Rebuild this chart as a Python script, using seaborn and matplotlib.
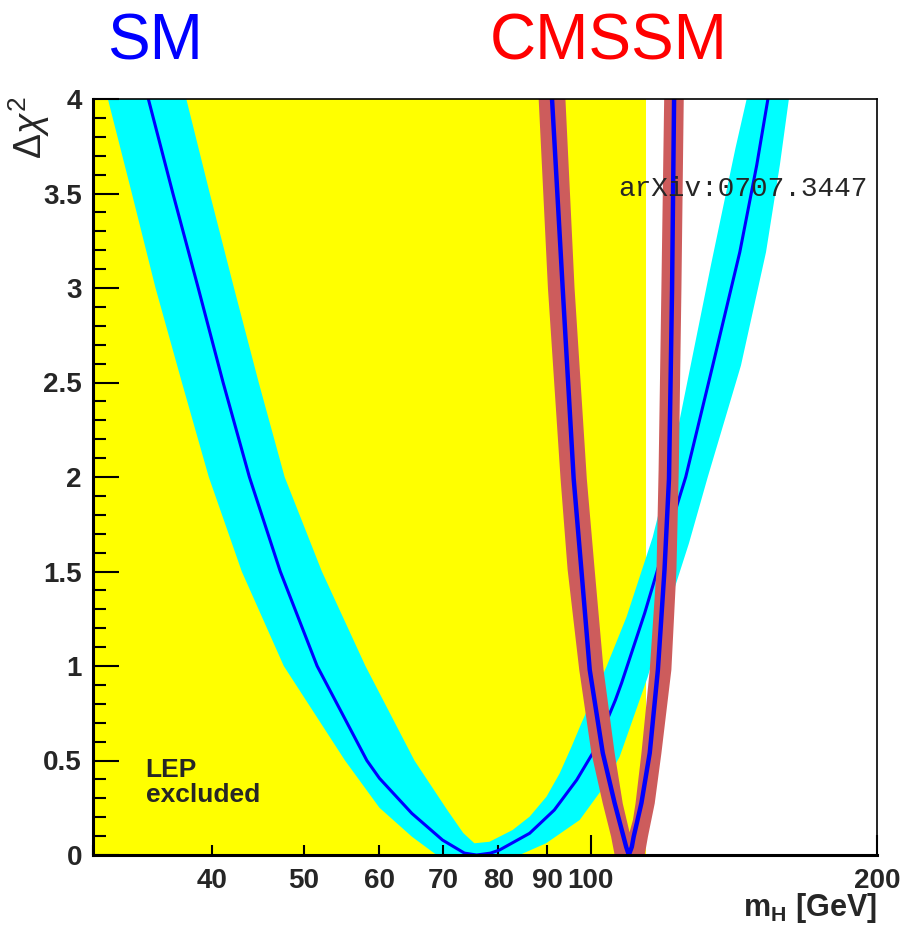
import numpy as np
import matplotlib
matplotlib.use("Agg")
import matplotlib.pyplot as plt
import seaborn as sns
from matplotlib.ticker import FixedLocator, MultipleLocator, FuncFormatter, FormatStrFormatter

# Delta chi^2 vs m_H (GeV, chi2)
sm_mh = [34.3, 36.4, 38.7, 41.1, 43.8, 47.2, 51.6, 58.2, 60.0, 64.9, 69.9, 73.7, 75.9,
         78.5, 80.2, 86.3, 91.6, 96.7, 101.0, 106.2, 107.8, 114.0, 121.7, 125.9,
         134.4, 143.5, 149.5, 153.6]
sm_chi2 = [4.0, 3.5, 3.0, 2.5, 2.0, 1.5, 1.0, 0.5, 0.406, 0.22, 0.079, 0.01, 0.0,
           0.01, 0.026, 0.115, 0.238, 0.397, 0.556, 0.82, 0.91, 1.28, 1.76, 2.0,
           2.59, 3.19, 3.65, 4.0]

# SM theory band: outer edge (left branch down, right branch up)
sm_outer_mh = [31.1, 32.96, 34.9, 37.2, 39.7, 43.0, 47.6, 55.2, 60.0, 64.9, 68.9,
               84.2, 89.8, 97.4, 102.7, 107.3, 114.8, 120.2, 126.9, 132.8, 143.9, 152.9, 158.1, 161.6]
sm_outer_chi2 = [4.0, 3.5, 3.0, 2.5, 2.0, 1.5, 1.0, 0.5, 0.25, 0.097, 0.0,
                 0.0, 0.062, 0.185, 0.344, 0.52, 0.94, 1.28, 1.65, 2.0, 2.59, 3.19, 3.65, 4.0]
# inner edge (right branch down, left branch up)
sm_inner_mh = [145.9, 142.0, 133.8, 125.3, 121.1, 116.2, 109.1, 104.0, 97.8, 95.5, 92.8,
               89.9, 86.3, 82.8, 78.3, 75.5,
               73.5, 70.7, 65.3, 58.0, 52.2, 47.7, 44.8, 42.2, 39.8, 37.6]
sm_inner_chi2 = [4.0, 3.74, 3.12, 2.41, 2.04, 1.68, 1.26, 1.0, 0.697, 0.573, 0.432,
                 0.309, 0.203, 0.132, 0.07, 0.062,
                 0.116, 0.238, 0.5, 1.0, 1.5, 2.0, 2.5, 3.0, 3.5, 4.0]

cmssm_mh = [91.1, 93.5, 96.0, 97.8, 99.8, 103.0, 106.0, 108.3, 109.0, 109.7,
            110.5, 111.0, 113.1, 115.4, 117.7, 119.6, 120.9, 121.8, 122.4]
cmssm_chi2 = [4.0, 2.99, 1.99, 1.51, 0.98, 0.54, 0.275, 0.097, 0.043, 0.0,
              0.043, 0.097, 0.275, 0.54, 0.98, 1.51, 1.99, 2.99, 4.0]

cmssm_outer_mh = [88.2, 90.2, 93.0, 94.6, 97.3, 100.2, 103.0, 105.1, 106.0,
                  114.0, 114.9, 116.8, 118.7, 121.6, 123.1, 123.8, 124.6, 125.3]
cmssm_outer_chi2 = [4.0, 3.0, 1.99, 1.51, 0.98, 0.54, 0.273, 0.097, 0.0,
                    0.0, 0.097, 0.273, 0.538, 0.979, 1.508, 2.04, 3.0, 4.0]
cmssm_inner_mh = [119.5, 118.7, 117.9, 117.3, 115.4, 113.1, 111.5, 110.8, 109.9,
                  108.1, 106.0, 103.2, 101.0, 99.1, 96.2, 94.1]
cmssm_inner_chi2 = [4.0, 3.0, 2.04, 1.508, 0.979, 0.538, 0.273, 0.185, 0.12,
                    0.273, 0.54, 0.98, 1.51, 1.99, 3.0, 4.0]

lep_limit = 114.4
x_labels = [40, 50, 60, 70, 80, 90, 100, 200]

sns.set_style("ticks")
plt.rcParams['font.family'] = ['Liberation Sans', 'DejaVu Sans']
plt.rcParams['font.weight'] = 'bold'
plt.rcParams['mathtext.fontset'] = 'custom'
plt.rcParams['mathtext.rm'] = 'Liberation Sans:weight=normal'
plt.rcParams['mathtext.it'] = 'Liberation Sans:style=italic:weight=normal'
plt.rcParams['mathtext.bf'] = 'Liberation Sans:weight=bold'

fig = plt.figure(figsize=(9.04, 9.26), dpi=100)
ax = fig.add_axes([93 / 904, 71 / 926, 784 / 904, 756 / 926])

# LEP excluded region
ax.axvspan(30, lep_limit, color='#FFFF00', lw=0, zorder=1)

# SM band + central curve
ax.fill(sm_outer_mh + sm_inner_mh, sm_outer_chi2 + sm_inner_chi2,
        color='#00FFFF', lw=0, zorder=2)
sns.lineplot(x=sm_mh, y=sm_chi2, sort=False, estimator=None, color='#0000FF',
             lw=2.2, ax=ax, zorder=3)

# CMSSM band + central curve
ax.fill(cmssm_outer_mh + cmssm_inner_mh, cmssm_outer_chi2 + cmssm_inner_chi2,
        color='#CD5C5C', lw=0, zorder=4)
sns.lineplot(x=cmssm_mh, y=cmssm_chi2, sort=False, estimator=None, color='#0000FF',
             lw=3.2, ax=ax, zorder=5)

ax.set_xscale('log')
ax.set_xlim(30, 200)
ax.set_ylim(0, 4)

ax.xaxis.set_major_locator(FixedLocator([100, 200]))
ax.xaxis.set_minor_locator(FixedLocator([30, 40, 50, 60, 70, 80, 90]))
ax.xaxis.set_major_formatter(FuncFormatter(lambda v, p: f"{v:.0f}"))
ax.xaxis.set_minor_formatter(FuncFormatter(lambda v, p: f"{v:.0f}" if round(v) in x_labels else ""))
ax.yaxis.set_major_locator(MultipleLocator(0.5))
ax.yaxis.set_minor_locator(MultipleLocator(0.1))
ax.yaxis.set_major_formatter(FormatStrFormatter('%g'))

ax.tick_params(axis='both', which='both', direction='in', labelsize=20, width=1.5,
               top=False, right=False, color='black')
ax.tick_params(axis='y', which='major', length=18.7, pad=8)
ax.tick_params(axis='y', which='minor', length=9.4)
ax.tick_params(axis='x', which='major', length=14.4, pad=9)
ax.tick_params(axis='x', which='minor', length=7.2, pad=9)

for side in ['left', 'bottom']:
    ax.spines[side].set_linewidth(2.2)
for side in ['top', 'right']:
    ax.spines[side].set_linewidth(1.2)
for s in ax.spines.values():
    s.set_color('black')
    s.set_zorder(10)
ax.set_axisbelow(False)

ax.set_xlabel(r"$\mathbf{m_H}$ [GeV]", fontsize=22, fontweight='bold', loc='right', labelpad=-2)
ax.set_ylabel(r"$\Delta\chi^2$", fontsize=27, fontweight='normal', loc='top')
ax.yaxis.set_label_coords(-0.052, 1.003)

ax.text(0.067, 0.128, "LEP\nexcluded", transform=ax.transAxes, fontsize=19,
        fontweight='bold', ha='left', va='top', linespacing=1.05, zorder=6)
ax.text(0.67, 0.872, "arXiv:0707.3447", transform=ax.transAxes, fontsize=20,
        family=['Liberation Mono', 'DejaVu Sans Mono'], fontweight='normal',
        ha='left', va='baseline', zorder=6)

fig.text(155 / 904, 1 - 60 / 926, "SM", color='#0000FF', fontsize=46,
         fontweight='normal', ha='center', va='baseline')
fig.text(609 / 904, 1 - 60 / 926, "CMSSM", color='#FF0000', fontsize=46,
         fontweight='normal', ha='center', va='baseline')

fig.savefig("out.png", dpi=100)
